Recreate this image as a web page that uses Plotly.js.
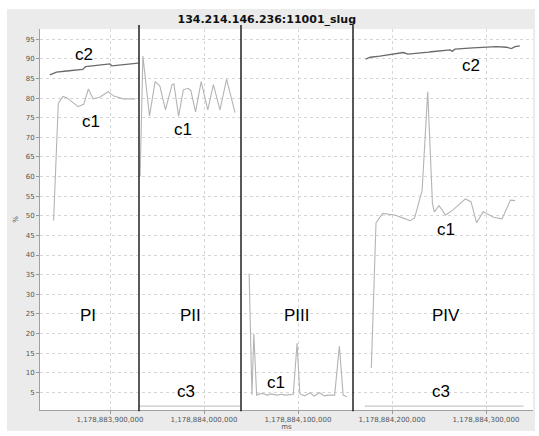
<!DOCTYPE html>
<html>
<head>
<meta charset="utf-8">
<script src="https://cdn.plot.ly/plotly-3.0.1.min.js"></script>
<style>
  html, body { margin: 0; padding: 0; background: #ffffff; }
  #chart { position: absolute; left: 7px; top: 9px; width: 528px; height: 422px; }
</style>
</head>
<body>
<div id="chart"></div>
<script>
// ---- data (time in ms, values in %) ----
const c2_PI_ms  = [1178883836000,1178883839000,1178883843000,1178883854000,1178883871000,1178883874000,1178883887000,1178883900000,1178883902000,1178883916000,1178883930000];
const c2_PI_pct = [85.9,86.2,86.6,86.9,87.3,88.0,88.3,88.7,88.2,88.5,88.9];

const c1_PI_ms  = [1178883840000,1178883845000,1178883850000,1178883854000,1178883866000,1178883872000,1178883877000,1178883882000,1178883889000,1178883898000,1178883904000,1178883914000,1178883927000];
const c1_PI_pct = [48.8,78.7,80.4,80.1,77.8,78.4,82.3,79.8,80.2,81.6,80.5,79.8,79.8];

const c1_PII_ms  = [1178883932000,1178883935000,1178883942000,1178883948000,1178883953000,1178883959000,1178883966000,1178883968000,1178883973000,1178883978000,1178883983000,1178883986000,1178883991000,1178883997000,1178884004000,1178884010000,1178884017000,1178884024000,1178884033000];
const c1_PII_pct = [60.0,90.7,75.4,84.2,83.1,77.0,83.4,83.6,75.4,82.1,82.5,81.9,76.5,84.2,77.0,83.4,77.0,84.8,76.3];

const c3_PII_ms  = [1178883930000,1178884039000];
const c3_PII_pct = [1.5,1.5];

const c1_PIII_ms  = [1178884048000,1178884051000,1178884053000,1178884056000,1178884059000,1178884063000,1178884067000,1178884072000,1178884077000,1178884083000,1178884086000,1178884095000,1178884099000,1178884102000,1178884107000,1178884113000,1178884117000,1178884123000,1178884128000,1178884132000,1178884139000,1178884144000,1178884148000,1178884152000];
const c1_PIII_pct = [35.3,4.3,19.9,4.3,4.6,4.7,4.3,4.6,4.3,4.5,4.3,4.5,17.5,4.6,4.1,4.9,4.05,4.9,4.1,4.3,4.3,16.8,4.3,3.9];

const c2_PIV_ms  = [1178884172000,1178884177000,1178884187000,1178884194000,1178884207000,1178884212000,1178884217000,1178884230000,1178884239000,1178884242000,1178884251000,1178884262000,1178884264000,1178884267000,1178884286000,1178884301000,1178884311000,1178884322000,1178884327000,1178884331000,1178884336000];
const c2_PIV_pct = [89.9,90.4,90.7,91.0,91.4,91.6,91.2,91.4,91.7,91.8,92.1,92.3,91.9,92.45,92.8,92.95,93.1,92.95,92.6,93.1,93.3];

const c1_PIV_ms  = [1178884178000,1178884183000,1178884190000,1178884194000,1178884203000,1178884212000,1178884219000,1178884224000,1178884232000,1178884238000,1178884243000,1178884245000,1178884250000,1178884257000,1178884265000,1178884278000,1178884284000,1178884290000,1178884297000,1178884308000,1178884317000,1178884326000,1178884331000];
const c1_PIV_pct = [11.2,48.2,50.6,50.5,50.2,49.4,48.75,49.4,56.4,81.6,53.2,51.0,52.6,50.2,51.5,54.3,53.6,48.2,51.0,49.6,49.2,54.0,53.85];

const c3_PIV_ms  = [1178884171000,1178884340000];
const c3_PIV_pct = [1.5,1.5];

const phaseBounds_ms = [1178883930851,1178884039362,1178884158511];
const yTicks = [5,10,15,20,25,30,35,40,45,50,55,60,65,70,75,80,85,90,95];
const xTicks = [1178883900000,1178884000000,1178884100000,1178884200000,1178884300000];
const xTickLabels = ['1,178,883,900,000','1,178,884,000,000','1,178,884,100,000','1,178,884,200,000','1,178,884,300,000'];

// ---- styles ----
const C1 = {color:'#b4b4b4', width:1.1};
const C2 = {color:'#6a6a6a', width:1.3};
const C3 = {color:'#c8c8c8', width:1.4};

function tr(x, y, line){ return {x:x, y:y, type:'scatter', mode:'lines', line:line, hoverinfo:'skip', showlegend:false}; }

const data = [
  tr(c2_PI_ms, c2_PI_pct, C2),
  tr(c1_PI_ms, c1_PI_pct, C1),
  tr(c1_PII_ms, c1_PII_pct, C1),
  tr(c3_PII_ms, c3_PII_pct, C3),
  tr(c1_PIII_ms, c1_PIII_pct, C1),
  tr(c2_PIV_ms, c2_PIV_pct, C2),
  tr(c1_PIV_ms, c1_PIV_pct, C1),
  tr(c3_PIV_ms, c3_PIV_pct, C3)
];

const lblFont = {family:'Liberation Sans, Arial, sans-serif', size:17, color:'#000'};
function ann(x, y, t){ return {x:x, y:y, xref:'x', yref:'y', text:t, showarrow:false, xanchor:'center', yanchor:'middle', font:lblFont}; }

const annotations = [
  ann(1178883872340, 91.0, 'c2'),
  ann(1178883879787, 73.9, 'c1'),
  ann(1178883876596, 24.7, 'PI'),
  ann(1178883977660, 72.1, 'c1'),
  ann(1178883985106, 24.7, 'PII'),
  ann(1178883980851, 5.1, 'c3'),
  ann(1178884098936, 24.7, 'PIII'),
  ann(1178884076596, 7.6, 'c1'),
  ann(1178884257447, 24.7, 'PIV'),
  ann(1178884257447, 46.4, 'c1'),
  ann(1178884284043, 88.4, 'c2'),
  ann(1178884252128, 5.1, 'c3')
];

const shapes = phaseBounds_ms.map(function(b){
  return {type:'line', xref:'x', yref:'paper', x0:b, x1:b, y0:-0.003, y1:1.0105, line:{color:'#000', width:1.3}, layer:'above'};
});

const tickFont = {family:'DejaVu Sans, sans-serif', size:7, color:'#555'};

const layout = {
  width:528, height:422,
  margin:{l:33, r:2, t:20, b:21, pad:0},
  paper_bgcolor:'#ebebeb',
  plot_bgcolor:'#ffffff',
  title:{text:'134.214.146.236:11001_slug', font:{family:'DejaVu Sans, sans-serif', size:11, color:'#111', weight:'bold'}, xref:'container', x:0.492, xanchor:'center', yref:'container', y:0.976, yanchor:'middle'},
  xaxis:{
    range:[1178883825532, 1178884350000],
    tickmode:'array', tickvals:xTicks, ticktext:xTickLabels,
    tickfont:tickFont, ticks:'outside', ticklen:3, tickcolor:'#999',
    showline:true, linecolor:'#a0a0a0', linewidth:1,
    showgrid:true, gridcolor:'#d6d6d6', griddash:'dot', gridwidth:1,
    zeroline:false,
    title:{text:'ms', font:{family:'DejaVu Sans, sans-serif', size:7, color:'#555'}, standoff:3}
  },
  yaxis:{
    range:[0.5, 97.6],
    tickmode:'array', tickvals:yTicks,
    tickfont:tickFont, ticks:'outside', ticklen:3, tickcolor:'#999',
    showline:true, linecolor:'#a0a0a0', linewidth:1,
    showgrid:true, gridcolor:'#d6d6d6', griddash:'dot', gridwidth:1,
    zeroline:false,
    title:{text:'%', font:{family:'DejaVu Sans, sans-serif', size:7, color:'#555'}, standoff:6}
  },
  annotations:annotations,
  shapes:shapes
};

Plotly.newPlot('chart', data, layout, {displayModeBar:false, staticPlot:true});
</script>
</body>
</html>
